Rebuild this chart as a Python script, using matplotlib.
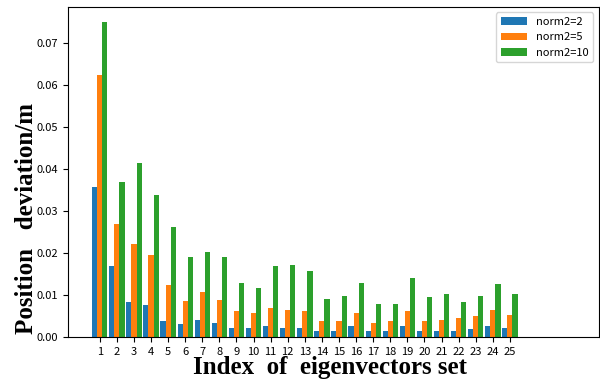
import numpy as np
import matplotlib
matplotlib.use("Agg")
import matplotlib.pyplot as plt

plt.rcParams['font.family'] = ['Noto Sans CJK SC', 'DejaVu Sans']

# Номера наборов собственных векторов
indices = list(range(1, 26))

# Отклонение положения (м) для разных норм
norm2_2 = [0.0357, 0.0169, 0.0084, 0.0077, 0.0039, 0.0030, 0.0041, 0.0032, 0.0022, 0.0021,
           0.0025, 0.0021, 0.0022, 0.0015, 0.0013, 0.0025, 0.0013, 0.0013, 0.0025, 0.0015,
           0.0013, 0.0015, 0.0020, 0.0027, 0.0021]
norm2_5 = [0.0624, 0.0268, 0.0222, 0.0194, 0.0124, 0.0086, 0.0108, 0.0089, 0.0061, 0.0058,
           0.0069, 0.0065, 0.0062, 0.0037, 0.0039, 0.0058, 0.0033, 0.0037, 0.0062, 0.0039,
           0.0041, 0.0044, 0.0049, 0.0063, 0.0051]
norm2_10 = [0.0748, 0.0368, 0.0413, 0.0337, 0.0261, 0.0189, 0.0202, 0.0191, 0.0129, 0.0117,
            0.0169, 0.0172, 0.0156, 0.0091, 0.0097, 0.0129, 0.0079, 0.0079, 0.0141, 0.0095,
            0.0101, 0.0084, 0.0097, 0.0125, 0.0103]

x = np.array(indices)
w = 0.3

fig = plt.figure(figsize=(6, 3.79), dpi=100)
ax = fig.add_axes([0.113, 0.111, 0.885, 0.871])

ax.bar(x - w, norm2_2, w, label='norm2=2')
ax.bar(x, norm2_5, w, label='norm2=5')
ax.bar(x + w, norm2_10, w, label='norm2=10')

ax.set_xlim(-0.87, 30.2)
ax.set_ylim(0, 0.0785)
ax.set_xticks(x)
ax.set_xticklabels([str(i) for i in indices])
ax.set_yticks(np.arange(0, 0.08, 0.01))
ax.set_yticklabels(['%.2f' % v for v in np.arange(0, 0.08, 0.01)])
ax.tick_params(labelsize=8)

label_font = {'family': 'Liberation Serif', 'weight': 'bold', 'size': 18}
ax.set_xlabel('Index  of  eigenvectors set', fontdict=label_font)
ax.set_ylabel('Position   deviation/m', fontdict=label_font)
ax.xaxis.set_label_coords(0.493, -0.058)
ax.yaxis.set_label_coords(-0.057, 0.36)

ax.legend(loc='upper right', fontsize=8, handlelength=2.4)

plt.savefig('out.png')
